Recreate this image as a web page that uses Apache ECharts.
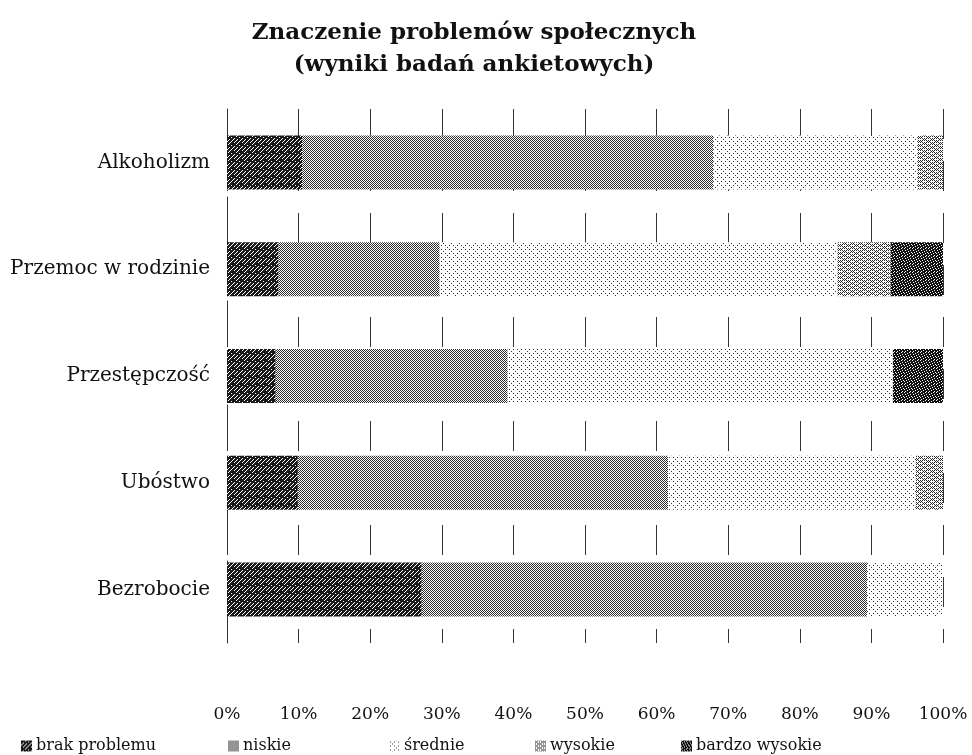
<!DOCTYPE html>
<html>
<head>
<meta charset="utf-8">
<script src="https://cdn.jsdelivr.net/npm/echarts@6/dist/echarts.min.js"></script>
<style>
  html, body { margin: 0; padding: 0; background: #fff; }
  #chart { width: 972px; height: 755px; }
</style>
</head>
<body>
<div id="chart"></div>
<script>
// Survey results: how serious each social problem is (percent of answers)
const categories = ['Bezrobocie', 'Ubóstwo', 'Przestępczość', 'Przemoc w rodzinie', 'Alkoholizm'];
const seriesNames = ['brak problemu', 'niskie', 'średnie', 'wysokie', 'bardzo wysokie'];

const brakProblemu   = [27.2,  9.9,  6.8,  7.2, 10.5];
const niskie         = [62.2, 51.7, 32.4, 22.5, 57.4];
const srednie        = [10.6, 34.6, 53.8, 55.6, 28.6];
const wysokie        = [ 0.0,  3.8,  0.0,  7.4,  3.5];
const bardzoWysokie  = [ 0.0,  0.0,  7.0,  7.3,  0.0];

const tickValues = [0, 10, 20, 30, 40, 50, 60, 70, 80, 90, 100];

const FONT = 'DejaVu Serif';

// Small monochrome tiles used as hatch fills
function makeTile(size, isInk, ink) {
  const c = document.createElement('canvas');
  c.width = size; c.height = size;
  const g = c.getContext('2d');
  g.fillStyle = '#fff';
  g.fillRect(0, 0, size, size);
  g.fillStyle = ink;
  for (let y = 0; y < size; y++) {
    for (let x = 0; x < size; x++) {
      if (isInk(x, y)) g.fillRect(x, y, 1, 1);
    }
  }
  return { image: c, repeat: 'repeat' };
}
const tri = x => Math.abs((x % 8) - 4);

const fills = [
  // dense dark weave
  makeTile(8, (x, y) => ((x + y) % 4 !== 0) || ((x * 3 + y) % 5 === 0), '#1a1a1a'),
  // zigzag weave
  makeTile(8, (x, y) => (y + tri(x)) % 2 === 0, '#2a2a2a'),
  // sparse dots
  makeTile(8, (x, y) => (x % 4 === 1 && y % 4 === 1) || (x % 4 === 3 && y % 4 === 3 && (x + y) % 8 === 6), '#333'),
  // lighter zigzag
  makeTile(8, (x, y) => (y + tri(x)) % 4 === 0 || (y + tri(x)) % 4 === 2 && x % 2 === 0, '#2a2a2a'),
  // very dense dark weave
  makeTile(8, (x, y) => ((x + 2 * y) % 5 !== 0), '#111')
];

const seriesData = [brakProblemu, niskie, srednie, wysokie, bardzoWysokie];

const chart = echarts.init(document.getElementById('chart'), null, { renderer: 'canvas' });

const legendLefts = [21, 228, 389, 535, 681];

chart.setOption({
  animation: false,
  backgroundColor: '#fff',
  title: {
    text: 'Znaczenie problemów społecznych\n(wyniki badań ankietowych)',
    left: 474,
    top: 17,
    textAlign: 'center',
    padding: 0,
    textStyle: {
      fontFamily: FONT,
      fontWeight: 'bold',
      fontSize: 23,
      lineHeight: 32,
      color: '#111',
      align: 'center'
    }
  },
  legend: seriesNames.map((n, i) => ({
    data: [n],
    left: legendLefts[i],
    top: 738,
    padding: 0,
    itemWidth: 11,
    itemHeight: 11,
    itemGap: 0,
    icon: 'rect',
    textStyle: { fontFamily: FONT, fontSize: 16, color: '#111', padding: [0, 0, 0, -1] }
  })),
  grid: { left: 227, right: 29, top: 109, bottom: 112, containLabel: false },
  xAxis: {
    type: 'value',
    min: 0,
    max: 100,
    interval: 10,
    axisLine: { show: false },
    axisTick: { show: false },
    axisLabel: {
      margin: 63,
      fontFamily: FONT,
      fontSize: 17,
      color: '#111',
      formatter: v => (tickValues.indexOf(v) >= 0 ? v + '%' : '')
    },
    splitLine: { show: true, lineStyle: { color: '#333', width: 1, type: [30, 22] } }
  },
  yAxis: {
    type: 'category',
    data: categories,
    axisLine: { show: true, lineStyle: { color: '#333', type: [30, 22] } },
    axisTick: { show: false },
    axisLabel: { margin: 17, fontFamily: FONT, fontSize: 20, color: '#111' }
  },
  series: seriesNames.map((n, i) => ({
    name: n,
    type: 'bar',
    stack: 'total',
    barWidth: 54,
    data: seriesData[i],
    itemStyle: { color: fills[i], borderWidth: 0 }
  }))
});
</script>
</body>
</html>
